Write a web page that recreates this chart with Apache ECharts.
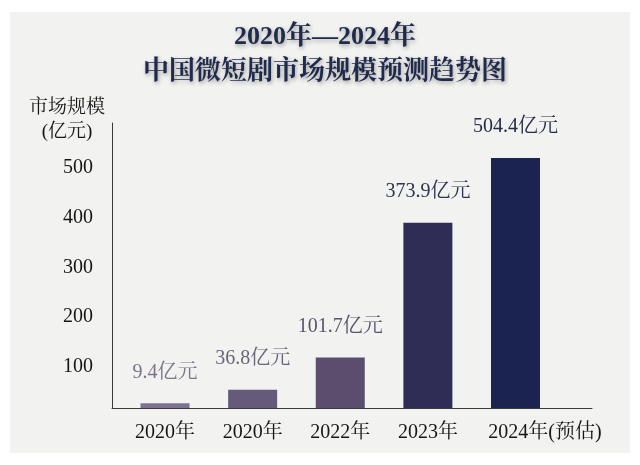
<!DOCTYPE html>
<html>
<head>
<meta charset="utf-8">
<script src="https://cdn.jsdelivr.net/npm/echarts@6/dist/echarts.min.js"></script>
<style>
html,body{margin:0;padding:0;background:#fff;}
#chart{width:640px;height:465px;}
</style>
</head>
<body>
<div id="chart"></div>
<script>
// ---- data ----
const categories = ['2020年', '2020年', '2022年', '2023年', '2024年(预估)'];
const values = [9.4, 36.8, 101.7, 373.9, 504.4];
const valueSuffix = '亿元';
const yTicks = [100, 200, 300, 400, 500];
const titleLines = ['2020年—2024年', '中国微短剧市场规模预测趋势图'];
const yName = ['市场规模', '(亿元)'];

// ---- styles ----
const barColors = ['#7d7290', '#665a7b', '#5a4d6d', '#2f2d55', '#1b2350'];
const labelColors = ['#7b7587', '#6b657a', '#5a556c', '#30344f', '#262a44'];
const FONT = '"Liberation Serif", "Noto Serif CJK SC", "Noto Sans CJK SC", serif';

const chart = echarts.init(document.getElementById('chart'), null, {renderer: 'canvas'});
const idx = categories.map((c, i) => i);

chart.setOption({
  backgroundColor: '#ffffff',
  animation: false,
  graphic: [{
    type: 'rect', z: -10, silent: true,
    shape: {x: 10, y: 12, width: 620, height: 441},
    style: {fill: '#f2f2f1'}
  }],
  title: [{
    text: titleLines.join('\n'),
    left: 320, top: 15, textAlign: 'center',
    textStyle: {
      fontFamily: FONT, fontSize: 26, fontWeight: 'bold', color: '#1f2a4c',
      lineHeight: 35,
      textShadowColor: 'rgba(0,0,0,0.35)', textShadowBlur: 4,
      textShadowOffsetX: 1, textShadowOffsetY: 2
    }
  }, {
    text: yName.join('\n'),
    left: 62, top: 91, textAlign: 'center',
    textStyle: {fontFamily: FONT, fontSize: 19, fontWeight: 'normal', color: '#151515', lineHeight: 24}
  }],
  grid: {left: 112, right: 48, top: 123, bottom: 57, containLabel: false},
  xAxis: {
    type: 'value', min: -0.605, max: 4.873,
    splitLine: {show: false},
    axisTick: {show: false},
    axisLine: {show: true, onZero: true, lineStyle: {color: '#3a3a3a', width: 1}},
    axisLabel: {
      customValues: idx,
      margin: 15,
      fontFamily: FONT, fontSize: 20, color: '#161616',
      formatter: function (v) {
        const i = Math.round(v);
        if (i === categories.length - 1) return '{sp|}' + categories[i];
        return categories[i];
      },
      rich: {sp: {width: 59}}
    }
  },
  yAxis: {
    type: 'value', min: 0, max: 575,
    splitLine: {show: false},
    axisTick: {show: false},
    axisLine: {show: true, onZero: false, lineStyle: {color: '#3a3a3a', width: 1}},
    axisLabel: {
      customValues: yTicks,
      margin: 19,
      verticalAlign: 'top',
      lineHeight: 16,
      fontFamily: FONT, fontSize: 20, color: '#161616'
    }
  },
  series: [{
    type: 'bar',
    barWidth: 49,
    data: values.map((v, i) => ({
      value: [i, v],
      itemStyle: {color: barColors[i]},
      label: {color: labelColors[i]}
    })),
    label: {
      show: true, position: 'top', distance: 21,
      fontFamily: FONT, fontSize: 20,
      formatter: function (p) { return p.value[1] + valueSuffix; }
    }
  }]
});
</script>
</body>
</html>
